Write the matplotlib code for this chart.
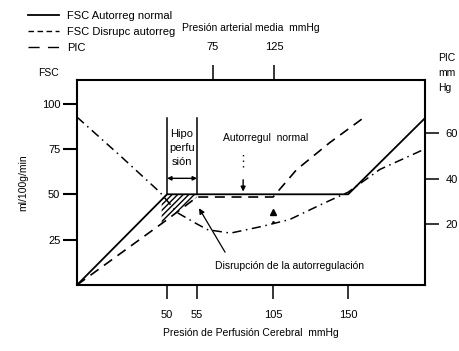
import numpy as np
import matplotlib
matplotlib.use("Agg")
import matplotlib.pyplot as plt
from matplotlib.lines import Line2D

plt.rcParams['font.family'] = ['Liberation Sans', 'DejaVu Sans']

# schematic (non linear) pressure axis: mmHg -> drawing position
cpp_breaks = [0, 50, 55, 105, 150, 250]
pos_breaks = [0, 90, 120, 196, 271, 438]

def fwd(x):
    return np.interp(x, cpp_breaks, pos_breaks)

def inv(p):
    return np.interp(p, pos_breaks, cpp_breaks)

# FSC con autorregulacion normal (ml/100g/min)
cpp_normal = [0, 50, 150, 196]
fsc_normal = [0, 50, 50, 92]

# FSC con disrupcion de la autorregulacion
cpp_disr = [0, 50, 55, 105, 119, 139, 159]
fsc_disr = [0, 36, 48.5, 48.5, 63.5, 78.5, 92]

# PIC (mmHg)
cpp_pic = [0, 24, 46, 51.7, 55, 62, 77, 98, 115, 135, 150, 169, 196]
pic = [67, 50, 34, 25, 20, 17.5, 16, 19, 22, 29, 34, 44, 53]

# zona de hipoperfusion (rayada)
cpp_hatch = [47, 50, 55]
hatch_top = [47, 50, 50]
hatch_bot = [34, 36, 48.5]

x_ticks = [50, 55, 105, 150]
map_tick_pos = [65.5, 105.5]
map_tick_labels = ['75', '125']
fsc_ticks = [25, 50, 75, 100]
pic_ticks = [20, 40, 60]

fig = plt.figure(figsize=(4.6, 3.51), dpi=100)
ax = fig.add_axes([77/460, 1-285/351, 348/460, 205/351])
ax.set_xscale('function', functions=(fwd, inv))
ax.set_xlim(0, 196)
ax.set_ylim(0, 113)

ax.plot(cpp_normal, fsc_normal, color='k', lw=1.3, solid_joinstyle='miter')
ax.plot(cpp_disr, fsc_disr, color='k', lw=1.2, dashes=(6, 4))
ax.fill_between(cpp_hatch, hatch_bot, hatch_top, facecolor='none',
                edgecolor='k', hatch='//////', lw=0)

# caja de hipoperfusion
ax.plot([50, 50], [50, 92.3], color='k', lw=1.1)
ax.plot([55, 55], [50, 92.3], color='k', lw=1.1)
ax.annotate('', xy=(50, 58.8), xytext=(55, 58.8),
            arrowprops=dict(arrowstyle='<|-|>', color='k', lw=1.0,
                            mutation_scale=6, shrinkA=0, shrinkB=0))
ax.text(52.5, 75.5, 'Hipo\nperfu\nsión', ha='center', va='center',
        fontsize=8, linespacing=1.45)

ax.text(72, 81, 'Autorregul  normal', ha='left', va='center', fontsize=7.5)
ax.plot([85.3, 85.3], [65, 74], color='k', lw=1.0, ls=(0, (1, 3)))
ax.annotate('', xy=(85.3, 51.5), xytext=(85.3, 58),
            arrowprops=dict(arrowstyle='-|>', color='k', lw=1.0,
                            mutation_scale=7, shrinkA=0, shrinkB=0))
ax.plot(105, 40.5, marker='^', color='k', ms=5)
ax.plot(105, 35, marker='.', color='k', ms=2)

ax.annotate('', xy=(56.3, 42.3), xytext=(73.4, 18.1),
            arrowprops=dict(arrowstyle='-|>', color='k', lw=0.9,
                            mutation_scale=8, shrinkA=0, shrinkB=0))
ax.text(66.8, 10.4, 'Disrupción de la autorregulación', ha='left',
        va='center', fontsize=7.5)

for s in ax.spines.values():
    s.set_linewidth(1.5)
ax.set_xticks(x_ticks)
ax.set_xticklabels([str(t) for t in x_ticks])
ax.set_yticks(fsc_ticks)
ax.set_yticklabels([str(t) for t in fsc_ticks])
ax.tick_params(axis='x', direction='out', length=10, width=1.1, pad=8,
               labelsize=8)
ax.tick_params(axis='y', direction='out', length=10, width=1.5, pad=2,
               labelsize=8)
ax.xaxis.set_minor_locator(matplotlib.ticker.NullLocator())
ax.set_xlabel('Presión de Perfusión Cerebral  mmHg', fontsize=7.5,
              labelpad=6)
ax.set_ylabel('ml/100g/min', fontsize=7.5, labelpad=10)

# eje PIC a la derecha
axr = ax.twinx()
axr.set_ylim(-6.8, 83.3)
axr.plot(cpp_pic, pic, color='k', lw=1.1, dashes=(6, 3, 1, 3))
axr.set_yticks(pic_ticks)
axr.set_yticklabels([str(t) for t in pic_ticks])
axr.tick_params(axis='y', direction='out', length=10, width=1.1, pad=5,
                labelsize=8)
for s in axr.spines.values():
    s.set_visible(False)

# eje superior: presion arterial media
axt = ax.twiny()
axt.set_xscale('function', functions=(fwd, inv))
axt.set_xlim(0, 196)
axt.set_xticks(map_tick_pos)
axt.set_xticklabels(map_tick_labels)
axt.xaxis.set_minor_locator(matplotlib.ticker.NullLocator())
axt.tick_params(axis='x', direction='out', length=11, width=1.1, pad=9,
                labelsize=8)
axt.set_xlabel('Presión arterial media  mmHg', fontsize=7.5, labelpad=8)
for s in axt.spines.values():
    s.set_visible(False)

fig.text(38/460, 1-73/351, 'FSC', fontsize=7.5, va='center')
fig.text(438/460, 1-73/351, 'PIC\nmm\nHg', fontsize=7.5, va='center',
         ha='left', linespacing=1.6)

handles = [Line2D([], [], color='k', lw=1.3),
           Line2D([], [], color='k', lw=1.0, dashes=(4, 2.5)),
           Line2D([], [], color='k', lw=1.0, dashes=(8, 6))]
labels = ['FSC Autorreg normal', 'FSC Disrupc autorreg', 'PIC']
fig.legend(handles, labels, loc='upper left',
           bbox_to_anchor=(28/460, 1-11/351), frameon=False, fontsize=8,
           handlelength=2.8, handletextpad=0.7, labelspacing=0.55,
           borderpad=0, borderaxespad=0)

fig.savefig('out.png', dpi=100)
